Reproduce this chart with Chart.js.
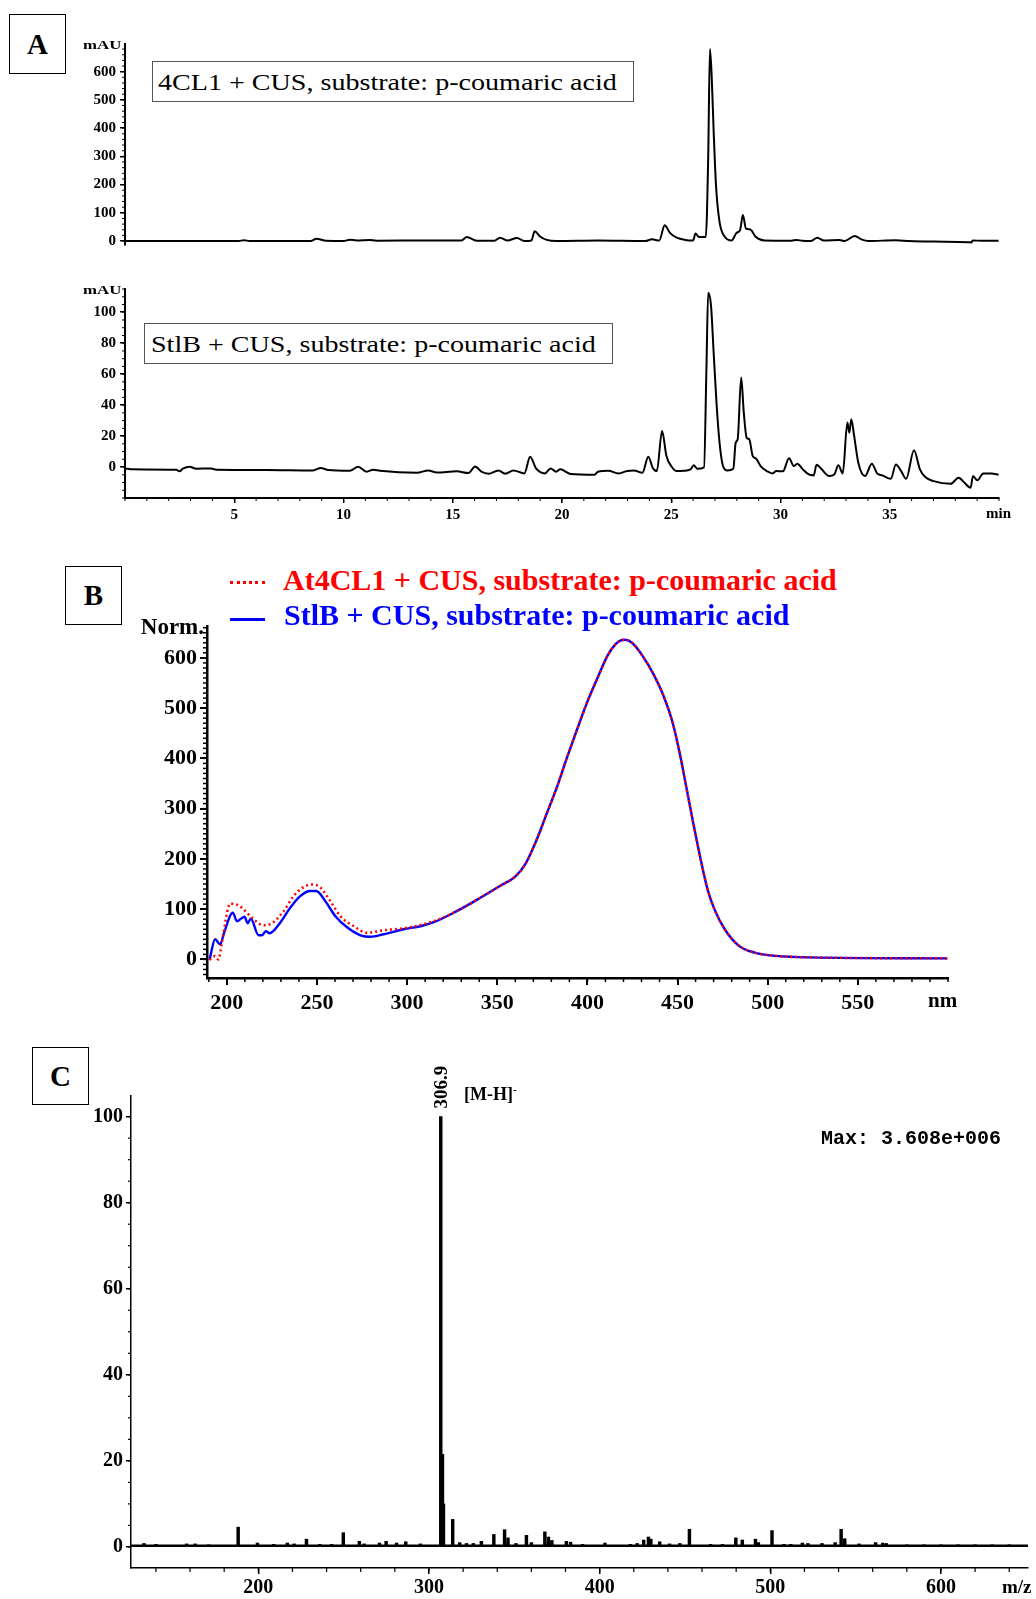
<!DOCTYPE html>
<html>
<head>
<meta charset="utf-8">
<script src="https://cdn.jsdelivr.net/npm/chart.js@4.4.1/dist/chart.umd.min.js"></script>
<style>
html,body{margin:0;padding:0;background:#fff;}
body{width:1036px;height:1599px;position:relative;overflow:hidden;font-family:'Liberation Serif','Times New Roman',serif;}
canvas{position:absolute;}
.t{position:absolute;white-space:nowrap;line-height:1;color:#000;}
.box{position:absolute;border:1px solid #000;box-sizing:border-box;display:flex;align-items:center;justify-content:center;font-weight:bold;font-size:29px;background:#fff;}
.leg{position:absolute;border:1px solid #555;box-sizing:border-box;background:#fff;}
</style>
</head>
<body>
<canvas id="a1" width="964" height="233" style="left:55px;top:28px;"></canvas>
<canvas id="a2" width="964" height="255" style="left:55px;top:273px;"></canvas>
<canvas id="b" width="841" height="408" style="left:127px;top:610px;"></canvas>
<canvas id="c" width="975" height="519" style="left:61px;top:1080px;"></canvas>

<!-- Panel A texts -->
<div class="box" style="left:9px;top:14px;width:57px;height:60px;">A</div>
<div class="t" style="right:915px;top:45px;font-size:12px;font-weight:bold;transform:translateY(-50%) scaleX(1.4);transform-origin:right center;">mAU</div>
<div class="leg" style="left:152px;top:61px;width:482px;height:41px;"></div>
<div class="t" style="left:158px;top:82px;font-size:24px;transform:translateY(-50%) scaleX(1.17);transform-origin:left center;">4CL1 + CUS, substrate: p-coumaric acid</div>
<div class="t" style="right:915px;top:290px;font-size:12px;font-weight:bold;transform:translateY(-50%) scaleX(1.4);transform-origin:right center;">mAU</div>
<div class="leg" style="left:144px;top:323px;width:469px;height:41px;"></div>
<div class="t" style="left:151px;top:344px;font-size:24px;transform:translateY(-50%) scaleX(1.17);transform-origin:left center;">StlB + CUS, substrate: p-coumaric acid</div>
<div class="t" style="left:986px;top:513px;font-size:15px;font-weight:bold;transform:translateY(-50%);">min</div>

<!-- Panel B texts -->
<div class="box" style="left:65px;top:566px;width:57px;height:59px;">B</div>
<div style="position:absolute;left:230px;top:581px;width:35px;border-top:3px dotted #ff0000;"></div>
<div class="t" style="left:283px;top:580px;font-size:30px;font-weight:bold;color:#ff0000;transform:translateY(-50%);">At4CL1 + CUS, substrate: p-coumaric acid</div>
<div style="position:absolute;left:230px;top:618px;width:35px;height:3px;background:#0000ff;"></div>
<div class="t" style="left:284px;top:615px;font-size:30px;font-weight:bold;color:#0000ff;transform:translateY(-50%);">StlB + CUS, substrate: p-coumaric acid</div>
<div class="t" style="right:832px;top:626px;font-size:23px;font-weight:bold;transform:translateY(-50%);">Norm.</div>
<div class="t" style="left:928px;top:1000px;font-size:21px;font-weight:bold;transform:translateY(-50%);">nm</div>

<!-- Panel C texts -->
<div class="box" style="left:32px;top:1047px;width:57px;height:58px;">C</div>
<div class="t" style="left:440px;top:1087px;font-size:19px;font-weight:bold;transform:translate(-50%,-50%) rotate(-90deg);">306.9</div>
<div class="t" style="left:464px;top:1093px;font-size:18px;font-weight:bold;transform:translateY(-50%);">[M-H]<sup style="font-size:11px;">-</sup></div>
<div class="t" style="left:821px;top:1139px;font-size:20px;font-weight:bold;font-family:'Liberation Mono','Courier New',monospace;transform:translateY(-50%);">Max: 3.608e+006</div>
<div class="t" style="left:1002px;top:1586px;font-size:19px;font-weight:bold;transform:translateY(-50%);">m/z</div>

<script>
// ---------- Panel A (HPLC chromatograms) ----------
const timeA1 = [0, 2.0, 5.2, 5.45, 5.7, 8.5, 8.76, 9.2, 10.0, 10.29, 10.6, 11.2, 11.5, 13.8, 15.4, 15.64, 16.0, 16.2, 16.9, 17.17, 17.5, 17.94, 18.28, 18.6, 18.75, 18.98, 19.3, 19.76, 21.65, 23.8, 24.12, 24.45, 24.7, 24.94, 25.25, 25.64, 26.0, 26.11, 26.27, 26.58, 26.69, 26.77, 26.85, 26.94, 27.05, 27.21, 27.45, 27.76, 27.99, 28.15, 28.28, 28.42, 28.62, 28.86, 29.25, 30.5, 30.74, 31.0, 31.4, 31.68, 31.99, 32.7, 32.93, 33.4, 33.7, 34.03, 35.28, 35.9, 37.0, 38.6, 38.73, 38.8, 39.2, 39.98];
const mauA1  = [0, 0.5, 0, 3, 0, 0, 8, 1, 0, 5, 2, 4, 1, 2, 2, 14, 3, 1, 1, 12, 2, 11, 0, 2, 35, 17, 4, 0, 2, 0, 6, 2, 56, 29, 12, 4, 2, 27, 14, 14, 290, 680, 585, 390, 195, 68, 15, 2, 29, 39, 92, 44, 41, 15, 2, 1, 4, 1, 0, 12, 2, 4, 0, 18, 6, 0, 3, 0, -2, -4, -5, 2, 1, 1];

const timeA2 = [0.0, 0.35, 2.34, 2.49, 2.65, 2.95, 3.26, 3.94, 4.17, 6.47, 8.61, 8.96, 9.3, 10.29, 10.67, 11.06, 11.36, 11.67, 13.35, 13.88, 14.27, 15.18, 15.72, 16.02, 16.33, 16.64, 17.09, 17.4, 17.78, 18.28, 18.54, 18.82, 19.22, 19.48, 19.73, 19.92, 20.39, 21.49, 21.65, 22.12, 22.59, 22.98, 23.29, 23.68, 23.95, 24.15, 24.34, 24.58, 24.78, 25.02, 25.25, 25.56, 25.88, 26.03, 26.19, 26.5, 26.61, 26.69, 26.82, 26.94, 27.07, 27.21, 27.37, 27.57, 27.84, 27.95, 28.04, 28.2, 28.32, 28.45, 28.57, 28.73, 28.89, 29.09, 29.4, 29.64, 29.8, 30.11, 30.39, 30.61, 30.77, 31.02, 31.29, 31.52, 31.65, 31.83, 32.23, 32.46, 32.65, 32.85, 33.06, 33.15, 33.24, 33.37, 33.56, 33.87, 34.18, 34.42, 34.66, 35.05, 35.28, 35.52, 35.75, 36.11, 36.38, 36.61, 37.01, 37.79, 38.15, 38.42, 38.7, 38.81, 39.01, 39.28, 39.67, 39.98];
const mauA2  = [-0.9, -1.5, -1.7, -2.8, -1.1, 0.2, -1.1, -0.9, -1.7, -1.9, -2.2, -0.6, -1.9, -2.4, 0.2, -3.0, -1.7, -2.4, -3.7, -2.2, -3.5, -2.8, -3.9, 0.4, -3.2, -4.3, -2.2, -4.3, -2.2, -4.1, 6.7, -1.1, -4.1, -0.9, -3.0, -1.5, -4.5, -5.0, -3.0, -2.4, -4.1, -2.6, -2.2, -3.7, 6.7, -0.4, -2.6, 23.3, 7.1, 0.2, -2.6, -2.4, -1.5, 1.1, -1.1, -0.2, 63.3, 112.5, 104.3, 74.1, 41.7, 15.8, 0.6, -2.2, -1.1, 15.8, 17.9, 57.9, 35.2, 19.0, 17.9, 7.1, 5.4, 0.6, -2.8, -4.1, -2.6, -2.8, 5.6, 0.6, 2.2, -1.5, -4.8, -5.4, 1.5, -0.6, -5.8, -4.8, 1.1, -4.1, 28.7, 22.2, 30.9, 20.1, 2.8, -5.8, 2.2, -4.1, -5.4, -7.6, 1.7, -2.6, -7.6, 10.8, -1.5, -6.3, -9.1, -10.8, -6.9, -10.2, -13.4, -5.8, -8.6, -4.1, -4.1, -5.0];

const ticksA1Y = [0, 100, 200, 300, 400, 500, 600];
const ticksA2Y = [0, 20, 40, 60, 80, 100];
const ticksA2X = [5, 10, 15, 20, 25, 30, 35];

// ---------- Panel B (UV spectra) ----------
const nmRed    = [190.4, 193.5, 195.4, 197.2, 201.9, 205.6, 208.3, 213.9, 220.4, 224.1, 231.5, 237, 242.6, 247.2, 251.9, 257.4, 263, 270.4, 277.8, 287, 300, 313];
const normRed  = [-1, 6.6, 0, 33, 111, 109, 103, 83, 68, 70, 96, 126, 144, 149, 143, 116, 86, 66, 53, 58, 63, 74];
const nmBlue   = [190.4, 193.5, 196.3, 198.5, 203.3, 205.6, 209.8, 211.5, 213.3, 217.6, 219.4, 221.7, 223.7, 229.6, 235.2, 240.7, 246.3, 249.6, 254.6, 260.2, 266.7, 274.1, 279.6, 287, 298.1, 307.4, 314.8];
const normBlue = [-1, 40, 30, 53, 93, 76, 85, 72, 81, 48, 48, 56, 52, 73, 103, 126, 136, 136, 116, 86, 64, 48, 45, 50, 60, 66, 74];
const nmShared   = [325.9, 338.9, 351.9, 360.1, 365.8, 371.5, 377.2, 382.9, 388.6, 394.3, 400, 405.7, 411.4, 417.1, 420.9, 424.7, 430.4, 436.1, 441.8, 447.5, 451.3, 455.1, 458.9, 462.7, 466.5, 470.3, 476, 483.7, 493.2, 504.6, 523.6, 599.6];
const normShared = [93, 119, 147, 165, 191, 235, 288, 341, 401, 458, 513, 561, 606, 632, 636, 630, 605, 571, 528, 468, 408, 338, 268, 201, 141, 101, 61, 28, 13, 7, 4, 2];
const ticksBY = [0, 100, 200, 300, 400, 500, 600];
const ticksBX = [200, 250, 300, 350, 400, 450, 500, 550];

// ---------- Panel C (mass spectrum) ----------
const mzPeaks = [133, 140, 158, 163, 171, 188.2, 199.5, 209, 217, 221, 228.2, 236, 243, 249.8, 259.2, 262, 271, 274.9, 281, 286.4, 295, 306.9, 307.9, 308.5, 313.9, 318, 322, 326, 330.7, 338, 344.3, 346.3, 351, 357.1, 360, 367.9, 370, 372, 380.5, 383, 390, 403.1, 418, 422, 425.8, 428.6, 430, 435.2, 441, 447, 452.6, 465, 472, 479.8, 483.6, 491.3, 493, 501, 508, 512, 518.8, 522, 530.3, 538, 541.5, 543.6, 552, 561.7, 565.9, 568, 580, 590, 600, 610, 620, 630, 640];
const relInt  = [0.8, 0.6, 0.7, 0.7, 0.5, 4.6, 0.9, 0.6, 0.9, 0.7, 1.8, 0.6, 0.6, 3.3, 1.3, 0.7, 0.9, 1.3, 0.9, 1.2, 0.7, 100, 21.5, 10, 6.4, 1.0, 0.8, 0.8, 1.3, 2.9, 4.0, 2.1, 0.8, 2.7, 1.0, 3.5, 2.3, 1.5, 1.3, 1.1, 0.6, 0.9, 0.6, 0.8, 1.6, 2.3, 1.8, 1.2, 0.7, 0.8, 4.1, 0.6, 0.6, 2.1, 1.6, 1.8, 1.0, 3.8, 0.6, 0.6, 0.9, 0.8, 0.8, 1.0, 4.1, 1.9, 0.7, 1.0, 0.9, 0.8, 0.5, 0.5, 0.5, 0.5, 0.5, 0.5, 0.5];
const mzBaseline  = [125.4, 651];
const intBaseline = [0.3, 0.3];
const ticksCY = [0, 20, 40, 60, 80, 100];
const ticksCX = [200, 300, 400, 500, 600];

// ---------- helpers ----------
const serif = "'Liberation Serif', 'Times New Roman', serif";
const pts = (xs, ys) => xs.map((x, i) => ({x: x, y: ys[i]}));

const minorTicksPlugin = {
  id: 'minorTicks',
  afterDraw(chart, args, opts) {
    const ctx = chart.ctx;
    ctx.save();
    ctx.strokeStyle = '#000';
    ctx.lineWidth = opts.width || 1;
    const axes = opts.axes || {};
    for (const id of Object.keys(axes)) {
      const cfg = axes[id];
      const s = chart.scales[id];
      if (!s) continue;
      const k0 = Math.ceil(s.min / cfg.step - 1e-9);
      for (let k = k0; k * cfg.step <= s.max + 1e-9; k++) {
        const v = k * cfg.step;
        const p = s.getPixelForValue(v);
        ctx.beginPath();
        if (s.isHorizontal()) { ctx.moveTo(p, s.top); ctx.lineTo(p, s.top + cfg.len); }
        else { ctx.moveTo(s.right, p); ctx.lineTo(s.right - cfg.len, p); }
        ctx.stroke();
      }
    }
    ctx.restore();
  }
};

function yAxis(min, max, ticks, o) {
  return {
    type: 'linear', position: 'left', min: min, max: max,
    afterBuildTicks: s => { s.ticks = ticks.map(v => ({value: v})); },
    afterFit: s => { s.width = o.width; },
    grid: {display: true, drawOnChartArea: false, drawTicks: true, tickLength: o.tickLen, color: '#000', lineWidth: o.tickW},
    border: {display: true, color: '#000', width: o.borderW},
    ticks: {color: '#000', padding: o.pad, autoSkip: false, font: {family: serif, size: o.font, weight: 'bold'}, callback: v => String(v)}
  };
}
function xAxis(min, max, ticks, o) {
  return {
    type: 'linear', position: 'bottom', min: min, max: max, offset: false,
    display: o.display !== false,
    afterBuildTicks: s => { s.ticks = ticks.map(v => ({value: v})); },
    afterFit: s => { s.height = o.height; },
    grid: {display: true, drawOnChartArea: false, drawTicks: true, tickLength: o.tickLen, color: '#000', lineWidth: o.tickW, offset: false},
    border: {display: true, color: '#000', width: o.borderW},
    ticks: {color: '#000', padding: o.pad, autoSkip: false, maxRotation: 0, font: {family: serif, size: o.font, weight: 'bold'}, callback: v => String(v)}
  };
}
function baseOptions(padding, scales, minor) {
  return {
    responsive: false, animation: false, devicePixelRatio: 1,
    layout: {padding: padding},
    plugins: {legend: {display: false}, tooltip: {enabled: false}, minorTicks: minor},
    elements: {point: {radius: 0}},
    scales: scales
  };
}

// Panel A top
new Chart(document.getElementById('a1'), {
  type: 'line',
  data: {datasets: [{data: pts(timeA1, mauA1), borderColor: '#000', borderWidth: 2, pointRadius: 0, cubicInterpolationMode: 'monotone', fill: false}]},
  options: baseOptions({left: 0, top: 16, right: 20, bottom: 16}, {
    x: xAxis(0, 40, ticksA2X, {display: false, height: 0, tickLen: 5, tickW: 1.5, borderW: 2, pad: 3, font: 15}),
    y: yAxis(-14, 698, ticksA1Y, {width: 70, tickLen: 5, tickW: 1.5, borderW: 2, pad: 4, font: 15})
  }, {width: 1, axes: {y: {step: 20, len: 3}}}),
  plugins: [minorTicksPlugin]
});

// Panel A bottom
new Chart(document.getElementById('a2'), {
  type: 'line',
  data: {datasets: [{data: pts(timeA2, mauA2), borderColor: '#000', borderWidth: 2, pointRadius: 0, cubicInterpolationMode: 'monotone', fill: false}]},
  options: baseOptions({left: 0, top: 16, right: 20, bottom: 0}, {
    x: xAxis(0, 40, ticksA2X, {height: 30, tickLen: 5, tickW: 1.5, borderW: 2, pad: 3, font: 15}),
    y: yAxis(-20, 115, ticksA2Y, {width: 70, tickLen: 5, tickW: 1.5, borderW: 2, pad: 4, font: 15})
  }, {width: 1, axes: {x: {step: 1, len: 3}, y: {step: 5, len: 3}}}),
  plugins: [minorTicksPlugin]
});

// Panel B
new Chart(document.getElementById('b'), {
  type: 'line',
  data: {datasets: [
    {data: pts(nmRed.concat(nmShared), normRed.concat(normShared)), borderColor: '#ff0000', borderWidth: 2.5, borderDash: [2, 3], pointRadius: 0, cubicInterpolationMode: 'monotone', fill: false},
    {data: pts(nmBlue.concat(nmShared), normBlue.concat(normShared)), borderColor: '#0000ff', borderWidth: 2.4, pointRadius: 0, cubicInterpolationMode: 'monotone', fill: false}
  ]},
  options: baseOptions({left: 0, top: 16, right: 20, bottom: 0}, {
    x: xAxis(189, 600, ticksBX, {height: 40, tickLen: 7, tickW: 2, borderW: 2.5, pad: 5, font: 22}),
    y: yAxis(-37, 663, ticksBY, {width: 80, tickLen: 7, tickW: 2, borderW: 2.5, pad: 3, font: 22})
  }, {width: 1.5, axes: {x: {step: 10, len: 4}, y: {step: 10, len: 4}}}),
  plugins: [minorTicksPlugin]
});

// Panel C
new Chart(document.getElementById('c'), {
  type: 'bar',
  data: {datasets: [
    {type: 'bar', data: pts(mzPeaks, relInt), backgroundColor: '#000', borderWidth: 0, barThickness: 2.8, grouped: false},
    {type: 'line', data: pts(mzBaseline, intBaseline), borderColor: '#000', borderWidth: 2.5, pointRadius: 0, fill: false}
  ]},
  options: baseOptions({left: 0, top: 16, right: 8, bottom: 0}, {
    x: xAxis(125.4, 651, ticksCX, {height: 31, tickLen: 6, tickW: 1.5, borderW: 1.5, pad: 2, font: 20}),
    y: yAxis(-4.9, 104.8, ticksCY, {width: 70, tickLen: 5, tickW: 1.5, borderW: 1.5, pad: 3, font: 20})
  }, {width: 1.2, axes: {x: {step: 20, len: 4}, y: {step: 5, len: 3}}}),
  plugins: [minorTicksPlugin]
});
</script>
</body>
</html>
